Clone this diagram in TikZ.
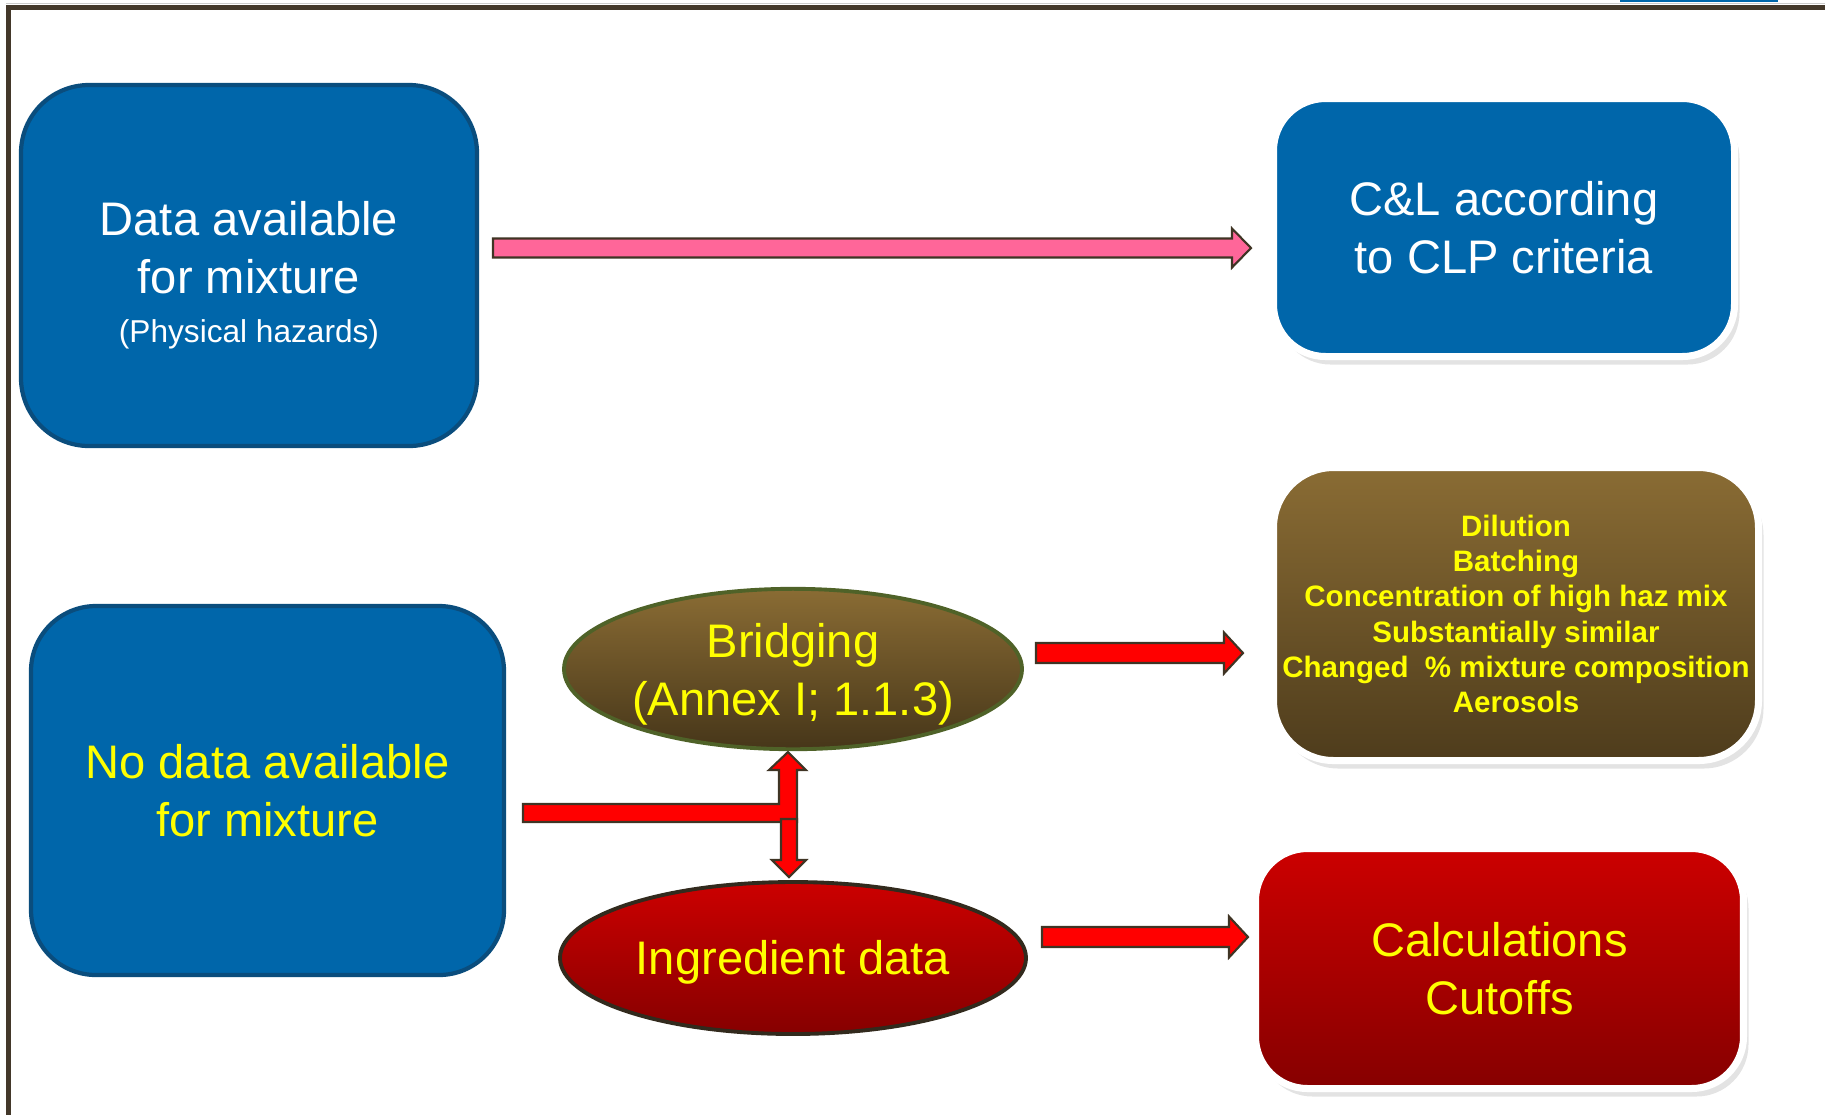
\documentclass[tikz,border=0pt]{standalone}
\usepackage{fontspec}
\setmainfont{Liberation Sans}
\usetikzlibrary{shapes.geometric, calc, shadows}

\definecolor{boxblue}{HTML}{0066AA}
\definecolor{boxedge}{HTML}{0A4D7D}
\definecolor{frameline}{HTML}{43382A}
\definecolor{arrowedge}{HTML}{3F3424}
\definecolor{pinkarrow}{HTML}{FF6699}
\definecolor{redarrow}{HTML}{FF0000}
\definecolor{browntop}{HTML}{8A6C34}
\definecolor{brownbot}{HTML}{4E3C1C}
\definecolor{redtop}{HTML}{CC0000}
\definecolor{redbot}{HTML}{860000}
\definecolor{olive}{HTML}{4F6228}
\definecolor{txtyellow}{HTML}{FFFF00}

\newcommand{\bigtxt}{\fontsize{13.4}{16.5}\selectfont}
% horizontal block arrow: start, end, half shaft, half head
\newcommand{\blockarrow}[5][]{%
  \draw[blockarr,#1] ($(#2)+(0,-#4)$) -- ($(#3)+(-19,-#4)$) -- ($(#3)+(-19,-#5)$)
    -- (#3) -- ($(#3)+(-19,#5)$) -- ($(#3)+(-19,#4)$) -- ($(#2)+(0,#4)$) -- cycle;}

\tikzset{
  bluebox/.style={rectangle, rounded corners=6.8mm, fill=boxblue, draw=boxedge,
    line width=1.2pt, align=center, inner sep=0pt, font=\bigtxt},
  glowbox/.style={rectangle, draw=white, line width=2pt, align=center, inner sep=0pt,
    font=\bigtxt, drop shadow={opacity=0.22, shadow xshift=0.5mm, shadow yshift=-0.8mm}},
  oval/.style={ellipse, line width=1.1pt, align=center, inner sep=0pt, text=txtyellow,
    font=\bigtxt},
  blockarr/.style={draw=arrowedge, line width=0.6pt, line join=miter},
}

\begin{document}
\begin{tikzpicture}[x=0.1mm, y=-0.1mm]
\useasboundingbox (0,0) rectangle (1825,1115);

% frame
\draw[gray!40, line width=0.3pt] (6,3.5) -- (1825,3.5);
\draw[frameline, line width=1.3pt] (6,7.5) -- (1825,7.5);
\draw[frameline, line width=1.3pt] (8.5,6) -- (8.5,1115);
\draw[boxblue, line width=0.6pt] (1620,0.6) -- (1778,0.6);

% left boxes
\node[bluebox, minimum width=45.6mm, minimum height=36.1mm, text=white] (data) at (249,265.5)
  {\rule{0pt}{15pt}Data available\\for mixture\\[-2.6pt]{\fontsize{9}{11}\selectfont(Physical hazards)}};
\node[bluebox, rounded corners=6.5mm, minimum width=47.3mm, minimum height=36.9mm, text=txtyellow] (nodata) at (267.5,790.5)
  {No data available\\for mixture};

% ovals
\node[oval, top color=browntop, bottom color=brownbot!90!black, draw=olive,
  minimum width=45.8mm, minimum height=15.6mm] (bridge) at (793,669)
  {\rule{0pt}{13pt}Bridging\\(Annex I; 1.1.3)};
\node[oval, top color=redtop, bottom color=redbot, draw=arrowedge!80!black,
  minimum width=46.6mm, minimum height=15.2mm] (ingr) at (793,958)
  {\rule{0pt}{12.2pt}Ingredient data};

% right boxes
\node[glowbox, rounded corners=5.2mm, fill=boxblue, text=white,
  minimum width=46.1mm, minimum height=25.8mm] (clp) at (1504,227.5)
  {C\&L according\\to CLP criteria};
\node[glowbox, rounded corners=6mm, top color=browntop, bottom color=brownbot, text=txtyellow,
  minimum width=48.5mm, minimum height=29.3mm, font=\fontsize{8.4}{10}\selectfont\bfseries] (bridgeopt) at (1516,614)
  {Dilution\\Batching\\Concentration of high haz mix\\
   Substantially similar\\Changed\ \ \% mixture composition\\Aerosols};
\node[glowbox, rounded corners=5.2mm, top color=redtop, bottom color=redbot, text=txtyellow,
  minimum width=48.8mm, minimum height=24mm] (calc) at (1499.5,968.5)
  {Calculations\\Cutoffs};

% arrow ends
\coordinate (pinkS) at (493,248);
\coordinate (pinkE) at (1251,248);
\coordinate (brS) at (1036,653);
\coordinate (brE) at (1243,653);
\coordinate (inS) at (1042,937);
\coordinate (inE) at (1248,937);

\blockarrow[fill=pinkarrow]{pinkS}{pinkE}{9.5}{19.5}
\blockarrow[fill=redarrow]{brS}{brE}{10}{20.5}
\blockarrow[fill=redarrow]{inS}{inE}{10}{20.5}

% split arrow from nodata to bridging / ingredients
\coordinate (split) at (788,813);
\draw[blockarr, fill=redarrow] (523,804) -- (779,804) -- (779,770) -- (769,770)
  -- (788,752) -- (806,770) -- (797,770) -- (797,822) -- (523,822) -- cycle;
\draw[blockarr, fill=redarrow] (781,819) -- (797,819) -- (797,860) -- (806,860)
  -- (789,877) -- (772,860) -- (781,860) -- cycle;
\end{tikzpicture}
\end{document}
